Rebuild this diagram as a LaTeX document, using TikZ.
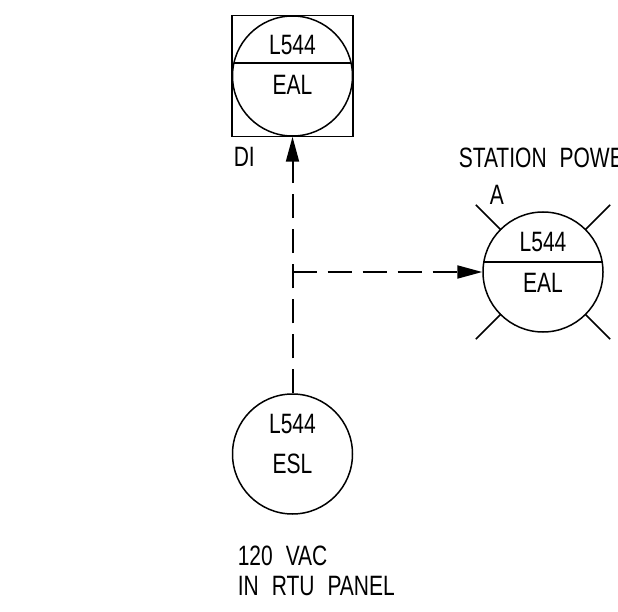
\documentclass[tikz,border=0pt]{standalone}
\usepackage{fontspec}
\setmainfont[FakeStretch=0.75]{Liberation Sans}
\usetikzlibrary{arrows.meta,calc}
\newcommand\wgap{\hspace{13pt}}
\begin{document}
\begin{tikzpicture}[x=1pt,y=-1pt,line width=1.5pt,
  inst/.style={circle,draw,minimum size=120pt,inner sep=0pt},
  sqbox/.style={draw,minimum size=121pt,inner sep=0pt},
  lbl/.style={font=\fontsize{28}{30}\selectfont,inner sep=0pt,anchor=base},
  lbll/.style={lbl,anchor=base west},
  sig/.style={dash pattern=on 24pt off 11pt,line width=2pt,-{Triangle[length=25pt,width=13pt]}}]
\useasboundingbox (0,0) rectangle (618,612);
\clip (0,0) rectangle (618,612);
% top instrument in box
\node[sqbox] (box) at (292.5,76) {};
\node[inst] (top) at (292.5,76) {};
\coordinate (tl) at ($(top)+(-58.6,-13)$);
\coordinate (tr) at ($(top)+(58.6,-13)$);
\draw (tl) -- (tr);
\node[lbl] (t1) at (292.5,55) {L544};
\node[lbl] (t2) at (292.5,95) {EAL};
\node[lbll] (di) at (233,167) {DI};
% right instrument
\node[inst] (rt) at (543,272) {};
\coordinate (rl) at ($(rt)+(-58.6,-10)$);
\coordinate (rr) at ($(rt)+(58.6,-10)$);
\draw (rl) -- (rr);
\foreach \a in {45,135,225,315}{
  \draw ($(rt)+(\a:60)$) -- ($(rt)+(\a:95)$);
}
\node[lbl] (r1) at (543,252) {L544};
\node[lbl] (r2) at (543,292) {EAL};
\node[lbll] (sp) at (458,168) {STATION\wgap POWER};
\node[lbll] (aa) at (489,205) {A};
% bottom instrument
\node[inst] (bt) at (292.5,454) {};
\node[lbl] (b1) at (292.5,433) {L544};
\node[lbl] (b2) at (292.5,473) {ESL};
\node[lbll] (v1) at (237,565) {120\wgap VAC};
\node[lbll] (v2) at (237,595) {IN\wgap RTU\wgap PANEL};
% signals
\coordinate (j) at (292.5,272);
\draw[sig] (bt.north) -- (top.south);
\draw[sig] (j) -- (rt.west);
\end{tikzpicture}
\end{document}
